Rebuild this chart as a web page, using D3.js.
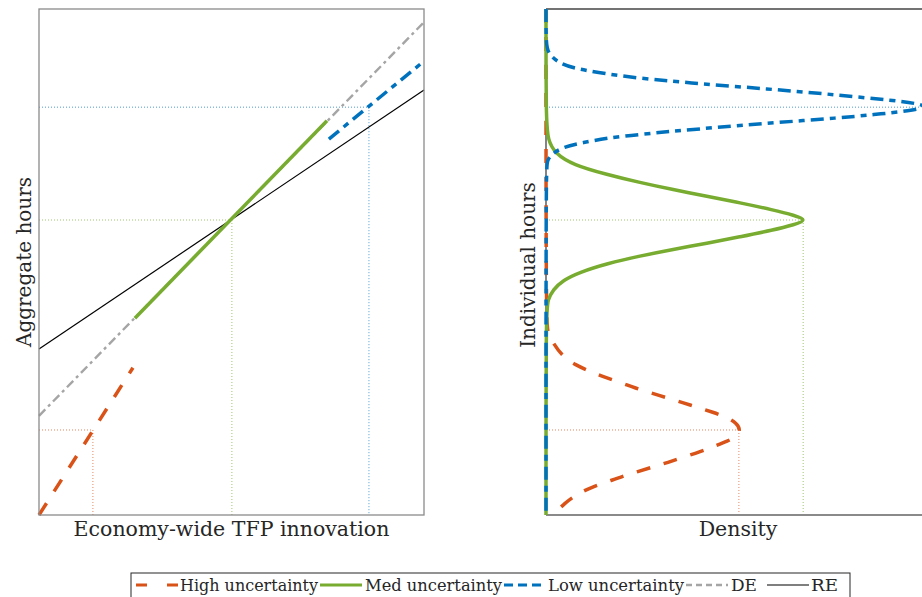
<!DOCTYPE html>
<html lang="en">
<head>
  <meta charset="utf-8"/>
  <script src="https://d3js.org/d3.v7.min.js"></script>
  <title>Aggregate and individual hours under uncertainty</title>
  <style>
    body { margin: 0; background: #fff; }
    text { font-family: "DejaVu Serif", "Liberation Serif", serif; fill: #262626; }
  </style>
</head>
<body>
  <div id="chart"></div>
<script>
  // ---- data ----
  // left panel: [innovation, aggregate hours]
  const reLine   = [[0, 0.328], [1, 0.840]];
  const deLine   = [[0, 0.196], [1, 0.974]];
  const highLine = [[0, 0], [0.244, 0.291]];
  const medLine  = [[0.249, 0.389], [0.748, 0.779]];
  const lowLine  = [[0.753, 0.743], [1, 0.897]];
  // marked equilibrium points [innovation, hours]
  const highPoint = [0.140, 0.168];
  const medPoint  = [0.501, 0.583];
  const lowPoint  = [0.857, 0.806];

  // right panel: [density, individual hours]
  const highDensity = [
    [0, 1], [0, 0.381], [0.05, 0.360], [0.18, 0.340], [0.44, 0.313], [0.75, 0.297],
    [1.19, 0.282], [1.53, 0.272], [1.97, 0.261], [2.31, 0.251], [2.75, 0.241],
    [3.12, 0.232], [3.56, 0.222], [3.92, 0.213], [4.34, 0.203], [4.70, 0.193],
    [4.96, 0.181], [5.05, 0.168], [4.96, 0.156], [4.73, 0.146], [4.34, 0.135],
    [4.00, 0.125], [3.56, 0.114], [3.17, 0.104], [2.78, 0.095], [2.39, 0.086],
    [1.97, 0.076], [1.61, 0.066], [1.19, 0.055], [0.83, 0.042], [0.49, 0.024],
    [0.18, 0]
  ];
  const medDensity = [
    [0, 1], [0, 0.781], [0.05, 0.741], [0.23, 0.715], [0.70, 0.692], [1.58, 0.673],
    [2.44, 0.657], [3.30, 0.643], [4.18, 0.630], [5.04, 0.617], [5.90, 0.603],
    [6.46, 0.592], [6.78, 0.583], [6.46, 0.574], [5.90, 0.563], [5.04, 0.550],
    [4.18, 0.537], [3.30, 0.525], [2.44, 0.512], [1.58, 0.497], [0.88, 0.480],
    [0.44, 0.464], [0.18, 0.445], [0.05, 0.425], [0, 0.405], [0, 0]
  ];
  const lowDensity = [
    [0, 1], [0, 0.933], [0.05, 0.913], [0.29, 0.895], [0.70, 0.883], [1.53, 0.872],
    [2.44, 0.863], [3.30, 0.857], [4.08, 0.852], [4.91, 0.847], [5.74, 0.842],
    [6.52, 0.837], [7.30, 0.832], [8.10, 0.826], [8.94, 0.820], [9.68, 0.813],
    [9.90, 0.806], [9.48, 0.799], [8.49, 0.791], [7.64, 0.785], [5.90, 0.775],
    [4.86, 0.769], [4.00, 0.763], [3.22, 0.758], [2.44, 0.752], [1.58, 0.745],
    [0.96, 0.736], [0.44, 0.727], [0.18, 0.715], [0.03, 0.702], [0, 0.682], [0, 0]
  ];
  // density at each equilibrium point (peaks)
  const highPeak = 5.01;
  const medPeak  = 6.68;
  const lowPeak  = 9.74;

  const legendNames = ["High uncertainty", "Med uncertainty", "Low uncertainty", "DE", "RE"];

  // ---- setup ----
  const width = 922;
  const height = 597;

  const svg = d3.select("#chart").append("svg")
    .attr("width", width)
    .attr("height", height);

  const colors = {high: "#D95319", med: "#77AC30", low: "#0072BD", de: "#A5A5A5", re: "#000"};

  const xL = d3.scaleLinear().domain([0, 1]).range([39, 424]);
  const xR = d3.scaleLinear().domain([0, 10]).range([546, 931]);
  const y  = d3.scaleLinear().domain([0, 1]).range([515, 9]);

  const lineL = d3.line().x(d => xL(d[0])).y(d => y(d[1]));
  const lineR = d3.line().x(d => xR(d[0])).y(d => y(d[1])).curve(d3.curveBasis);

  const styles = {
    high: {w: 3.5, dash: "14,14"},
    med:  {w: 3.5, dash: null},
    low:  {w: 3.5, dash: "13,6,6,6"},
    de:   {w: 2.4, dash: "9,4,3,4"},
    re:   {w: 1.2, dash: null}
  };

  const drawPath = (g, data, gen, key) => {
    g.append("path")
      .datum(data)
      .attr("fill", "none")
      .attr("stroke", colors[key])
      .attr("stroke-width", styles[key].w)
      .attr("stroke-dasharray", styles[key].dash)
      .attr("d", gen);
  };

  const dotted = (g, x1, y1, x2, y2, key) => {
    g.append("line")
      .attr("x1", x1).attr("y1", y1).attr("x2", x2).attr("y2", y2)
      .attr("stroke", colors[key])
      .attr("stroke-opacity", 0.7)
      .attr("stroke-width", 1)
      .attr("stroke-dasharray", "1,2");
  };

  // ---- left panel ----
  const gL = svg.append("g");

  [[highPoint, "high"], [medPoint, "med"], [lowPoint, "low"]].forEach(([p, k]) => {
    dotted(gL, xL(0), y(p[1]), xL(p[0]), y(p[1]), k);
    dotted(gL, xL(p[0]), y(p[1]), xL(p[0]), y(0), k);
  });

  drawPath(gL, reLine, lineL, "re");
  drawPath(gL, deLine, lineL, "de");
  drawPath(gL, highLine, lineL, "high");
  drawPath(gL, medLine, lineL, "med");
  drawPath(gL, lowLine, lineL, "low");

  gL.append("rect")
    .attr("x", xL(0)).attr("y", y(1))
    .attr("width", xL(1) - xL(0)).attr("height", y(0) - y(1))
    .attr("fill", "none")
    .attr("stroke", "#8a8a8a")
    .attr("stroke-width", 1.3);

  gL.append("text")
    .attr("x", (xL(0) + xL(1)) / 2).attr("y", 536)
    .attr("text-anchor", "middle")
    .attr("font-size", 20.5)
    .text("Economy-wide TFP innovation");

  gL.append("text")
    .attr("transform", "translate(31," + 262 + ") rotate(-90)")
    .attr("text-anchor", "middle")
    .attr("font-size", 20)
    .text("Aggregate hours");

  // ---- right panel ----
  const gR = svg.append("g");

  dotted(gR, xR(0), y(lowPoint[1]), xR(lowPeak), y(lowPoint[1]), "low");
  dotted(gR, xR(0), y(medPoint[1]), xR(medPeak), y(medPoint[1]), "med");
  dotted(gR, xR(medPeak), y(medPoint[1]), xR(medPeak), y(0), "med");
  dotted(gR, xR(0), y(highPoint[1]), xR(highPeak), y(highPoint[1]), "high");
  dotted(gR, xR(highPeak), y(highPoint[1]), xR(highPeak), y(0), "high");

  gR.append("line")
    .attr("x1", xR(0)).attr("x2", xR(10)).attr("y1", y(1)).attr("y2", y(1))
    .attr("stroke", "#444").attr("stroke-width", 1.3);
  gR.append("line")
    .attr("x1", xR(0)).attr("x2", xR(10)).attr("y1", y(0)).attr("y2", y(0))
    .attr("stroke", "#8a8a8a").attr("stroke-width", 2);
  gR.append("line")
    .attr("x1", xR(0)).attr("x2", xR(0)).attr("y1", y(1)).attr("y2", y(0))
    .attr("stroke", "#333").attr("stroke-width", 1.2);

  drawPath(gR, highDensity, lineR, "high");
  drawPath(gR, medDensity, lineR, "med");
  drawPath(gR, lowDensity, lineR, "low");

  gR.append("text")
    .attr("x", 738).attr("y", 536)
    .attr("text-anchor", "middle")
    .attr("font-size", 20.5)
    .text("Density");

  gR.append("text")
    .attr("transform", "translate(535," + 265 + ") rotate(-90)")
    .attr("text-anchor", "middle")
    .attr("font-size", 20)
    .text("Individual hours");

  // ---- legend ----
  const keys = ["high", "med", "low", "de", "re"];
  const sampleX = [136, 320, 504, 686, 767];
  const textX = [180, 365, 548, 731, 811];
  const textW = [138, 137, 136, 26, 27];
  const sampleDash = {high: "11,20", med: null, low: "9,5", de: "6,4", re: null};

  const gLeg = svg.append("g");
  gLeg.append("rect")
    .attr("x", 131).attr("y", 573).attr("width", 719).attr("height", 26)
    .attr("fill", "#fff").attr("stroke", "#262626").attr("stroke-width", 1);

  keys.forEach((k, i) => {
    gLeg.append("line")
      .attr("x1", sampleX[i]).attr("x2", sampleX[i] + 42)
      .attr("y1", 585).attr("y2", 585)
      .attr("stroke", colors[k])
      .attr("stroke-width", Math.min(styles[k].w, 3))
      .attr("stroke-dasharray", sampleDash[k]);
    gLeg.append("text")
      .attr("x", textX[i]).attr("y", 591)
      .attr("font-size", 17)
      .attr("textLength", textW[i])
      .attr("lengthAdjust", "spacingAndGlyphs")
      .text(legendNames[i]);
  });
</script>
</body>
</html>
